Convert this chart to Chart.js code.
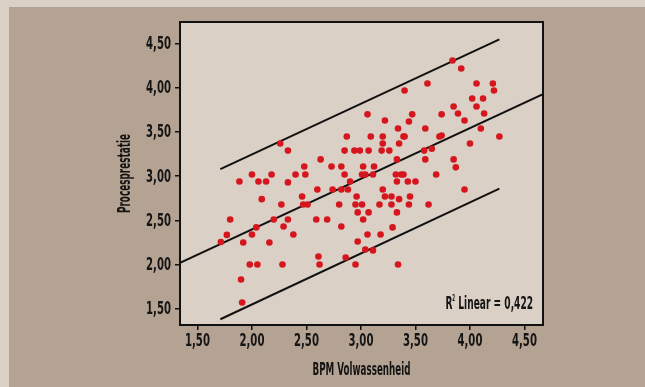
<!DOCTYPE html>
<html>
<head>
<meta charset="utf-8">
<script src="https://cdn.jsdelivr.net/npm/chart.js@4/dist/chart.umd.min.js"></script>
<style>
  html, body { margin: 0; padding: 0; background: #dad0c5; }
  #wrap { width: 645px; height: 387px; }
</style>
</head>
<body>
<div id="wrap"><canvas id="scatterChart" width="645" height="387"></canvas></div>
<script>
//// data
const bpmScores = [
  1.715, 1.77, 1.80, 1.885, 1.92, 1.90, 1.91, 1.98, 2.00, 2.00,
  2.04, 2.05, 2.06, 2.09, 2.13, 2.16, 2.18, 2.20, 2.26, 2.27,
  2.29, 2.28, 2.33, 2.33, 2.33, 2.38, 2.40, 2.46, 2.48, 2.49,
  2.47, 2.51, 2.59, 2.60, 2.61, 2.62, 2.63, 2.69, 2.73, 2.74,
  2.80, 2.82, 2.82, 2.82, 2.85, 2.85, 2.87, 2.86, 2.88, 2.90,
  2.94, 2.95, 2.96, 2.97, 2.95, 2.97, 2.99, 3.01, 3.01, 3.02,
  3.02, 3.04, 3.04, 3.06, 3.06, 3.07, 3.07, 3.09, 3.11, 3.12,
  3.11, 3.17, 3.18, 3.19, 3.20, 3.20, 3.20, 3.22, 3.22, 3.26,
  3.28, 3.28, 3.29, 3.32, 3.33, 3.33, 3.33, 3.34, 3.34, 3.35,
  3.35, 3.37, 3.39, 3.40, 3.40, 3.39, 3.43, 3.44, 3.44, 3.45,
  3.47, 3.50, 3.58, 3.59, 3.59, 3.61, 3.62, 3.65, 3.69, 3.72,
  3.74, 3.74, 3.84, 3.85, 3.85, 3.87, 3.89, 3.92, 3.95, 3.95,
  4.00, 4.02, 4.06, 4.06, 4.10, 4.12, 4.13, 4.21, 4.22, 4.27
];
const procesScores = [
  2.255, 2.335, 2.51, 2.94, 2.25, 1.83, 1.57, 2.00, 3.02, 2.34,
  2.42, 2.00, 2.94, 2.74, 2.94, 2.25, 3.02, 2.51, 3.37, 2.68,
  2.43, 2.00, 3.29, 2.93, 2.51, 2.34, 3.02, 2.77, 3.11, 3.02,
  2.68, 2.68, 2.51, 2.85, 2.09, 2.00, 3.19, 2.51, 3.11, 2.85,
  2.68, 3.11, 2.85, 2.43, 3.29, 3.02, 3.45, 2.08, 2.85, 2.94,
  3.29, 2.68, 2.77, 2.26, 2.00, 2.59, 3.29, 2.68, 3.02, 3.11,
  2.51, 3.02, 2.17, 2.34, 3.70, 3.29, 2.59, 3.45, 3.02, 3.11,
  2.16, 2.68, 2.34, 3.29, 3.37, 3.45, 2.85, 3.63, 2.77, 3.29,
  2.77, 2.68, 2.42, 3.02, 2.59, 3.19, 2.94, 3.54, 2.00, 3.37,
  2.74, 3.02, 3.45, 3.97, 3.45, 3.02, 2.94, 3.62, 2.68, 2.77,
  3.70, 2.94, 3.29, 3.54, 3.19, 4.05, 2.68, 3.31, 3.02, 3.45,
  3.46, 3.70, 4.31, 3.79, 3.19, 3.10, 3.71, 4.22, 2.85, 3.63,
  3.37, 3.88, 4.05, 3.79, 3.54, 3.88, 3.71, 4.05, 3.97, 3.45
];

// fit line and the two interval lines (end points)
const fitLineX = [1.34, 4.67];
const fitLineY = [2.02, 3.93];
const bandX = [1.71, 4.27];
const upperBandY = [3.08, 4.55];
const lowerBandY = [1.38, 2.86];

const xTickValues = [1.5, 2.0, 2.5, 3.0, 3.5, 4.0, 4.5];
const yTickValues = [1.5, 2.0, 2.5, 3.0, 3.5, 4.0, 4.5];
const xTitle = "BPM Volwassenheid";
const yTitle = "Procesprestatie";
const r2Label = " Linear = 0,422";

//// styles
const FONT = "'DejaVu Sans Condensed', 'Liberation Sans Narrow', sans-serif";
const textColor = "#141414";
const dotRed = "#d6161e";
const plotBg = "#dad0c5";
const outerBg = "#b4a392";

function toPoints(xs, ys) {
  return xs.map((x, i) => ({ x: x, y: ys[i] }));
}

function commaLabel(value) {
  return Number(value).toFixed(2).replace(".", ",");
}

// the original uses a very narrow face, so squeeze text horizontally
function drawSqueezed(ctx, text, x, y, squeeze, align, angle) {
  ctx.save();
  ctx.translate(x, y);
  if (angle) ctx.rotate(angle);
  ctx.scale(squeeze, 1);
  ctx.textAlign = align;
  ctx.fillText(text, 0, 0);
  ctx.restore();
}

const labelsPlugin = {
  id: "labels",
  beforeDraw(chart) {
    const ctx = chart.ctx;
    const area = chart.chartArea;
    ctx.save();
    ctx.fillStyle = plotBg;
    ctx.fillRect(0, 0, chart.width, chart.height);
    ctx.fillStyle = outerBg;
    ctx.fillRect(9, 7, chart.width - 9, chart.height - 7);
    ctx.fillStyle = plotBg;
    ctx.fillRect(area.left, area.top, area.right - area.left, area.bottom - area.top);
    ctx.restore();
  },
  afterDraw(chart) {
    const ctx = chart.ctx;
    const area = chart.chartArea;
    const xScale = chart.scales.x;
    const yScale = chart.scales.y;
    ctx.save();
    ctx.strokeStyle = "#111";
    ctx.lineWidth = 2;
    ctx.strokeRect(area.left, area.top, area.right - area.left, area.bottom - area.top);

    ctx.fillStyle = textColor;
    ctx.textBaseline = "middle";
    ctx.font = "bold 17px " + FONT;
    const tickSqueeze = 25 / ctx.measureText("4,50").width;
    xTickValues.forEach(v => {
      drawSqueezed(ctx, commaLabel(v), xScale.getPixelForValue(v), area.bottom + 17, tickSqueeze, "center");
    });
    yTickValues.forEach(v => {
      drawSqueezed(ctx, commaLabel(v), area.left - 9, yScale.getPixelForValue(v) + 1, tickSqueeze, "right");
    });

    ctx.font = "bold 17px " + FONT;
    const xTitleSqueeze = 98 / ctx.measureText(xTitle).width;
    drawSqueezed(ctx, xTitle, (area.left + area.right) / 2, area.bottom + 46, xTitleSqueeze, "center");
    const yTitleSqueeze = 79 / ctx.measureText(yTitle).width;
    drawSqueezed(ctx, yTitle, area.left - 54, (area.top + area.bottom) / 2, yTitleSqueeze, "center", -Math.PI / 2);

    // R² note, bottom right of the plot
    ctx.textBaseline = "alphabetic";
    ctx.font = "bold 18px " + FONT;
    const r2Squeeze = 0.56;
    const restWidth = ctx.measureText(r2Label).width * r2Squeeze;
    const rightX = area.right - 10;
    const baseY = area.bottom - 16;
    drawSqueezed(ctx, r2Label, rightX, baseY, r2Squeeze, "right");
    ctx.font = "bold 8px " + FONT;
    const supWidth = ctx.measureText("2").width * r2Squeeze;
    drawSqueezed(ctx, "2", rightX - restWidth, baseY - 8, r2Squeeze, "right");
    ctx.font = "bold 18px " + FONT;
    drawSqueezed(ctx, "R", rightX - restWidth - supWidth, baseY, r2Squeeze, "right");
    ctx.restore();
  }
};

const lineStyle = {
  type: "line",
  borderColor: "#111",
  borderWidth: 2,
  pointRadius: 0,
  fill: false,
  tension: 0
};

const ctx = document.getElementById("scatterChart").getContext("2d");
new Chart(ctx, {
  type: "scatter",
  data: {
    datasets: [
      {
        label: "Procesprestatie",
        data: toPoints(bpmScores, procesScores),
        backgroundColor: dotRed,
        borderColor: dotRed,
        borderWidth: 0,
        pointRadius: 3.3
      },
      Object.assign({ label: "fit", data: toPoints(fitLineX, fitLineY) }, lineStyle),
      Object.assign({ label: "upper", data: toPoints(bandX, upperBandY) }, lineStyle),
      Object.assign({ label: "lower", data: toPoints(bandX, lowerBandY) }, lineStyle)
    ]
  },
  options: {
    responsive: false,
    animation: false,
    layout: { padding: { top: 22, right: 102, bottom: 4, left: 115 } },
    plugins: {
      legend: { display: false },
      tooltip: { enabled: false }
    },
    scales: {
      x: {
        type: "linear",
        min: 1.34,
        max: 4.67,
        afterBuildTicks: (scale) => { scale.ticks = xTickValues.map(v => ({ value: v })); },
        afterFit: (scale) => { scale.height = 58; },
        border: { display: true, color: "#111", width: 2 },
        grid: { drawOnChartArea: false, drawTicks: true, tickLength: 5, color: "#111", lineWidth: 1.5 },
        ticks: { display: false },
        title: { display: false }
      },
      y: {
        type: "linear",
        min: 1.315,
        max: 4.746,
        afterBuildTicks: (scale) => { scale.ticks = yTickValues.map(v => ({ value: v })); },
        afterFit: (scale) => { scale.width = 65; },
        border: { display: true, color: "#111", width: 2 },
        grid: { drawOnChartArea: false, drawTicks: true, tickLength: 5, color: "#111", lineWidth: 1.5 },
        ticks: { display: false },
        title: { display: false }
      }
    }
  },
  plugins: [labelsPlugin]
});
</script>
</body>
</html>
